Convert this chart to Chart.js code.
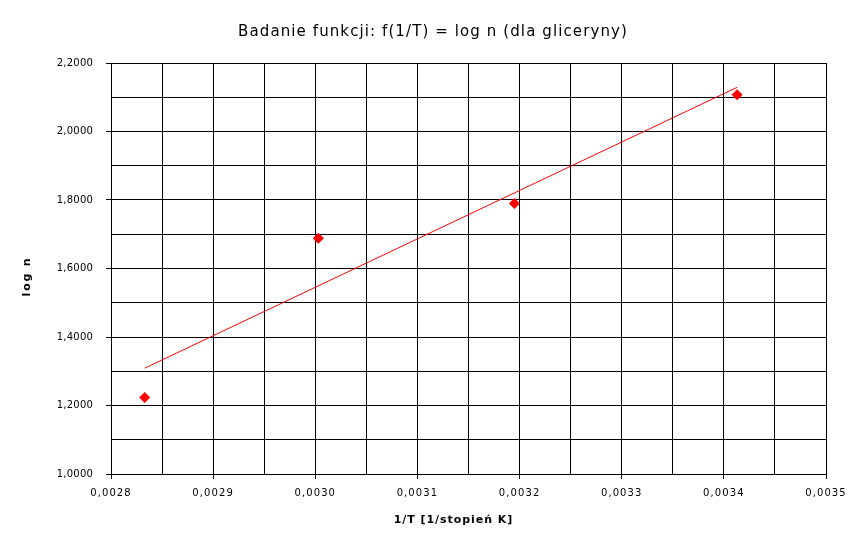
<!DOCTYPE html>
<html>
<head>
<meta charset="utf-8">
<script src="https://cdn.jsdelivr.net/npm/chart.js@4"></script>
<style>
html,body{margin:0;padding:0;background:#fff;}
canvas{display:block;}
</style>
</head>
<body>
<canvas id="c" width="866" height="548"></canvas>
<script>
// Data
const invT = [0.002833, 0.003003, 0.003195, 0.003413];
const logN = [1.223, 1.688, 1.790, 2.107];
const trendX = [0.002833, 0.003413];
const trendY = [1.309, 2.129];
const titleText = 'Badanie funkcji: f(1/T) = log n (dla gliceryny)';
const xTitle = '1/T [1/stopień K]';
const yTitle = 'log n';

const fmt = v => Number(v).toFixed(4).replace('.', ',');
const FONT = "'DejaVu Sans', sans-serif";

// wrap a scale's text drawing with a canvas letter spacing and a small shift
function spaced(obj, method, spacing, dx, dy) {
  const key = '_ls_' + method;
  if (obj[key]) return;
  const orig = obj[method];
  obj[method] = function () {
    const ctx = this.ctx;
    ctx.save();
    ctx.letterSpacing = spacing;
    ctx.translate(dx || 0, dy || 0);
    const r = orig.apply(this, arguments);
    ctx.restore();
    return r;
  };
  obj[key] = true;
}

const textPlugin = {
  id: 'textPlugin',
  beforeDraw(chart) {
    spaced(chart.scales.x, 'drawLabels', '1.1px', 0, 0);
    spaced(chart.scales.x, 'drawTitle', '0.95px', -15, 0);
    spaced(chart.scales.y, 'drawLabels', '0.2px', 0, 0);
    spaced(chart.scales.y, 'drawTitle', '1.8px', 0, 8);
  },
  afterDraw(chart) {
    const ctx = chart.ctx;
    ctx.save();
    ctx.letterSpacing = '1.1px';
    ctx.font = "15px " + FONT;
    ctx.fillStyle = '#000';
    ctx.textAlign = 'center';
    ctx.textBaseline = 'alphabetic';
    ctx.fillText(titleText, chart.width / 2, 36);
    ctx.restore();
  }
};

new Chart(document.getElementById('c'), {
  type: 'scatter',
  data: {
    datasets: [
      {
        label: 'dane',
        data: invT.map((x, i) => ({x: x, y: logN[i]})),
        pointStyle: 'rectRot',
        pointRadius: 5.5,
        pointBorderWidth: 0,
        backgroundColor: '#ff0000',
        borderColor: '#ff0000',
        showLine: false
      },
      {
        label: 'trend',
        data: trendX.map((x, i) => ({x: x, y: trendY[i]})),
        showLine: true,
        borderColor: '#ff0000',
        borderWidth: 1,
        pointRadius: 0,
        fill: false
      }
    ]
  },
  plugins: [textPlugin],
  options: {
    responsive: false,
    animation: false,
    layout: {padding: {left: 0, right: 40, top: 63, bottom: 0}},
    plugins: {
      legend: {display: false},
      tooltip: {enabled: false},
      title: {display: false}
    },
    scales: {
      x: {
        type: 'linear',
        min: 0.0028,
        max: 0.0035,
        afterFit: s => { s.height = 74; },
        border: {color: '#000', width: 1},
        grid: {
          color: '#000',
          lineWidth: 1,
          tickLength: 5,
          tickColor: ctx => (ctx.index % 2 === 0 ? '#000' : 'rgba(0,0,0,0)')
        },
        ticks: {
          stepSize: 0.00005,
          color: '#000',
          maxRotation: 0,
          autoSkip: false,
          padding: 8,
          font: {family: FONT, size: 10},
          callback: (v, i) => (i % 2 === 0 ? fmt(v) : '')
        },
        title: {
          display: true,
          text: xTitle,
          color: '#000',
          font: {family: FONT, size: 11, weight: 'bold'},
          padding: {top: 0, bottom: 21}
        }
      },
      y: {
        type: 'linear',
        min: 1.0,
        max: 2.2,
        afterFit: s => { s.width = 111; },
        border: {color: '#000', width: 1},
        grid: {
          color: '#000',
          lineWidth: 1,
          tickLength: 5,
          tickColor: ctx => (ctx.index % 2 === 0 ? '#000' : 'rgba(0,0,0,0)')
        },
        ticks: {
          stepSize: 0.1,
          color: '#000',
          autoSkip: false,
          padding: 13,
          font: {family: FONT, size: 10},
          callback: (v, i) => (i % 2 === 0 ? fmt(v) : '')
        },
        title: {
          display: true,
          text: yTitle,
          color: '#000',
          font: {family: FONT, size: 11, weight: 'bold'},
          padding: {top: 21, bottom: 0}
        }
      }
    }
  }
});
</script>
</body>
</html>
